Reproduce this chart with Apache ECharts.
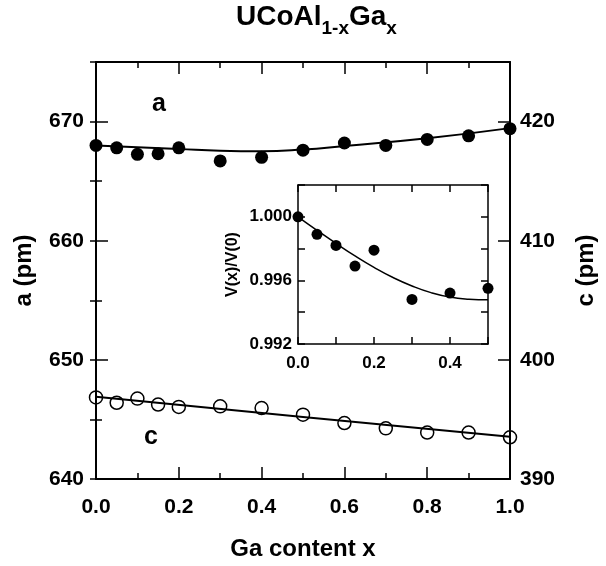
<!DOCTYPE html>
<html>
<head>
<meta charset="utf-8">
<script src="https://cdn.jsdelivr.net/npm/echarts@6/dist/echarts.min.js"></script>
<style>
html, body { margin: 0; padding: 0; background: #fff; }
#chart { width: 606px; height: 566px; }
</style>
</head>
<body>
<div id="chart"></div>
<script>
// values
const gaX = [0, 0.05, 0.1, 0.15, 0.2, 0.3, 0.4, 0.5, 0.6, 0.7, 0.8, 0.9, 1.0];
const aValues = [668.0, 667.8, 667.25, 667.3, 667.8, 666.7, 667.0, 667.6, 668.2, 668.0, 668.5, 668.8, 669.4];
const cValues = [396.85, 396.4, 396.75, 396.25, 396.05, 396.1, 395.95, 395.4, 394.7, 394.25, 393.9, 393.9, 393.5];

const aFitX = [0, 0.2, 0.3, 0.4, 0.5, 0.6, 0.8, 1.0];
const aFit = [668.0, 667.7, 667.55, 667.5, 667.65, 667.95, 668.6, 669.45];
const cFitX = [0, 0.5, 1.0];
const cFit = [396.9, 395.2, 393.55];

const insetX = [0, 0.05, 0.1, 0.15, 0.2, 0.3, 0.4, 0.5];
const insetV = [1.0, 0.9989, 0.9982, 0.9969, 0.9979, 0.9948, 0.9952, 0.9955];
const insetFitX = [0, 0.05, 0.1, 0.15, 0.2, 0.25, 0.3, 0.35, 0.4, 0.45, 0.5];
const insetFit = [1.0, 0.99915, 0.99833, 0.99754, 0.99682, 0.99618, 0.99565, 0.99523, 0.99495, 0.99482, 0.99478];

// title pieces: [text, subscript?]
const titleParts = [['UCoAl', false], ['1-x', true], ['Ga', false], ['x', true]];

const font = '"Liberation Sans", Arial, sans-serif';

function zip(xs, ys) {
    return xs.map((x, i) => [x, ys[i]]);
}

function tickStyle(len) {
    return { show: true, inside: true, length: len, lineStyle: { color: '#000', width: 1.5 } };
}

function labelStyle(size, margin, formatter) {
    return {
        show: true, color: '#000', fontSize: size, fontWeight: 'bold',
        fontFamily: font, margin: margin, formatter: formatter
    };
}

// title with real subscripts, laid out piece by piece
function buildTitle() {
    const ctx = document.createElement('canvas').getContext('2d');
    let x = 0;
    const children = titleParts.map(([text, sub]) => {
        const size = sub ? 19 : 28;
        ctx.font = `bold ${size}px ${font}`;
        const el = {
            type: 'text', x: x, y: sub ? 16 : 0,
            style: { text: text, fontSize: size, fontWeight: 'bold', fontFamily: font, fill: '#000', verticalAlign: 'top' }
        };
        x += ctx.measureText(text).width;
        return el;
    });
    return { type: 'group', left: 236, top: 3, children: children };
}

const nameStyle = { color: '#000', fontSize: 24, fontWeight: 'bold', fontFamily: font };
const line2 = { show: true, onZero: false, lineStyle: { color: '#000', width: 2 } };
const line1 = { show: true, onZero: false, lineStyle: { color: '#000', width: 1.5 } };
const noSplit = { show: false };

const chart = echarts.init(document.getElementById('chart'));

const options = {
    animation: false,
    backgroundColor: '#fff',
    grid: [
        { left: 96, top: 62, width: 417, height: 418 },
        { left: 298, top: 185, width: 190, height: 159 }
    ],
    xAxis: [
        {
            gridIndex: 0, type: 'value', position: 'bottom', min: 0, max: 1, interval: 0.2,
            axisLine: line2, axisTick: tickStyle(12),
            minorTick: { show: true, splitNumber: 2, length: 6, lineStyle: { color: '#000', width: 1.5 } },
            splitLine: noSplit,
            axisLabel: labelStyle(21, 18, v => v.toFixed(1)),
            name: 'Ga content x', nameLocation: 'middle', nameGap: 58, nameTextStyle: nameStyle
        },
        {
            gridIndex: 0, type: 'value', position: 'top', min: 0, max: 1, interval: 0.2,
            axisLine: line2, axisTick: tickStyle(12),
            minorTick: { show: true, splitNumber: 2, length: 6, lineStyle: { color: '#000', width: 1.5 } },
            splitLine: noSplit, axisLabel: { show: false }
        },
        {
            gridIndex: 1, type: 'value', position: 'bottom', min: 0, max: 0.5, interval: 0.1,
            axisLine: line1, axisTick: tickStyle(7), splitLine: noSplit,
            axisLabel: labelStyle(17, 11, v => (Math.round(v * 10) % 2 === 0 ? v.toFixed(1) : ''))
        },
        {
            gridIndex: 1, type: 'value', position: 'top', min: 0, max: 0.5, interval: 0.1,
            axisLine: line1, axisTick: tickStyle(7), splitLine: noSplit, axisLabel: { show: false }
        }
    ],
    yAxis: [
        {
            gridIndex: 0, type: 'value', position: 'left', min: 640, max: 675, interval: 10,
            axisLine: line2, axisTick: tickStyle(12), splitLine: noSplit,
            axisLabel: labelStyle(21, 12, v => (v % 10 === 0 ? String(v) : '')),
            name: 'a (pm)', nameLocation: 'middle', nameGap: 60, nameTextStyle: nameStyle
        },
        {
            gridIndex: 0, type: 'value', position: 'left', min: 640, max: 675, interval: 5,
            axisLine: { show: false }, axisTick: tickStyle(6), splitLine: noSplit, axisLabel: { show: false }
        },
        {
            gridIndex: 0, type: 'value', position: 'right', min: 390, max: 425, interval: 10,
            axisLine: line2, axisTick: tickStyle(12), splitLine: noSplit,
            axisLabel: labelStyle(21, 10, v => (v % 10 === 0 ? String(v) : '')),
            name: 'c (pm)', nameLocation: 'middle', nameGap: 64, nameTextStyle: nameStyle
        },
        {
            gridIndex: 0, type: 'value', position: 'right', min: 390, max: 425, interval: 5,
            axisLine: { show: false }, axisTick: tickStyle(6), splitLine: noSplit, axisLabel: { show: false }
        },
        {
            gridIndex: 1, type: 'value', position: 'left', min: 0.992, max: 1.002, interval: 0.002,
            axisLine: line1, axisTick: tickStyle(7), splitLine: noSplit,
            axisLabel: labelStyle(17, 6, v => (Math.round(v * 1000) % 4 === 0 ? v.toFixed(3) : '')),
            name: 'V(x)/V(0)', nameLocation: 'middle', nameGap: 57,
            nameTextStyle: { color: '#000', fontSize: 16, fontWeight: 'bold', fontFamily: font }
        },
        {
            gridIndex: 1, type: 'value', position: 'right', min: 0.992, max: 1.002, interval: 0.002,
            axisLine: line1, axisTick: tickStyle(7), splitLine: noSplit, axisLabel: { show: false }
        }
    ],
    graphic: [
        buildTitle(),
        { type: 'text', left: 152, top: 92, style: { text: 'a', fontSize: 25, fontWeight: 'bold', fontFamily: font, fill: '#000' } },
        { type: 'text', left: 144, top: 425, style: { text: 'c', fontSize: 25, fontWeight: 'bold', fontFamily: font, fill: '#000' } }
    ],
    series: [
        {
            type: 'line', xAxisIndex: 0, yAxisIndex: 0, data: zip(aFitX, aFit), smooth: true,
            showSymbol: false, lineStyle: { color: '#000', width: 2 }, z: 2
        },
        {
            type: 'scatter', xAxisIndex: 0, yAxisIndex: 0, data: zip(gaX, aValues),
            symbol: 'circle', symbolSize: 13, itemStyle: { color: '#000', opacity: 1 }, z: 3
        },
        {
            type: 'line', xAxisIndex: 0, yAxisIndex: 2, data: zip(cFitX, cFit),
            showSymbol: false, lineStyle: { color: '#000', width: 2 }, z: 2
        },
        {
            type: 'scatter', xAxisIndex: 0, yAxisIndex: 2, data: zip(gaX, cValues),
            symbol: 'circle', symbolSize: 13,
            itemStyle: { color: 'rgba(0,0,0,0)', borderColor: '#000', borderWidth: 1.5, opacity: 1 }, z: 3
        },
        {
            type: 'line', xAxisIndex: 2, yAxisIndex: 4, data: zip(insetFitX, insetFit), smooth: true,
            showSymbol: false, lineStyle: { color: '#000', width: 1.5 }, z: 2
        },
        {
            type: 'scatter', xAxisIndex: 2, yAxisIndex: 4, data: zip(insetX, insetV),
            symbol: 'circle', symbolSize: 11, itemStyle: { color: '#000', opacity: 1 }, z: 3
        }
    ]
};

chart.setOption(options);
window.addEventListener('resize', () => chart.resize());
</script>
</body>
</html>
